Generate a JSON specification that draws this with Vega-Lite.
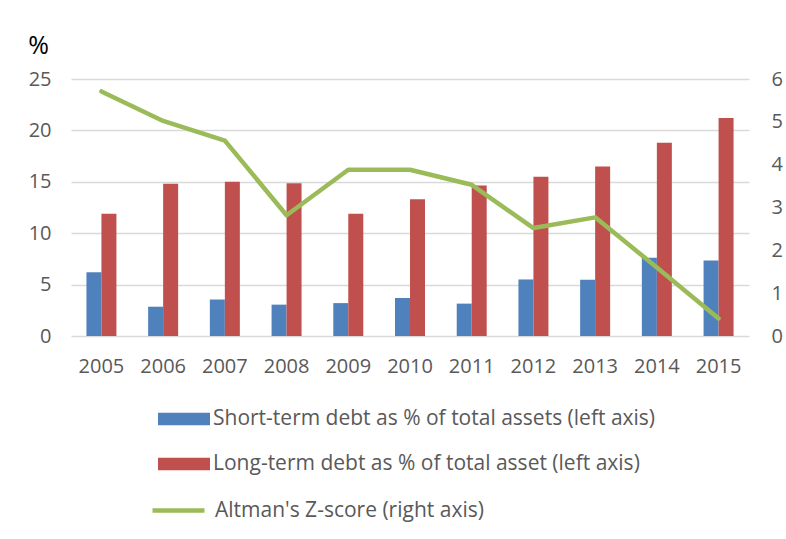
{
  "$schema": "https://vega.github.io/schema/vega-lite/v6.json",
  "width": 678,
  "height": 257,
  "autosize": {"type": "none"},
  "padding": {"left": 71, "top": 79, "right": 37, "bottom": 203},
  "background": "white",
  "config": {
    "view": {"stroke": null},
    "font": "Open Sans",
    "axis": {"labelColor": "#595959", "labelFontSize": 20, "labelFont": "Open Sans"},
    "legend": {"labelColor": "#595959", "labelFontSize": 21, "labelFont": "Open Sans", "labelLimit": 700}
  },
  "datasets": {
    "debt": [
      {"year": "2005", "series": "Short-term debt as % of total assets (left axis)", "value": 6.2},
      {"year": "2006", "series": "Short-term debt as % of total assets (left axis)", "value": 2.85},
      {"year": "2007", "series": "Short-term debt as % of total assets (left axis)", "value": 3.55},
      {"year": "2008", "series": "Short-term debt as % of total assets (left axis)", "value": 3.05},
      {"year": "2009", "series": "Short-term debt as % of total assets (left axis)", "value": 3.2},
      {"year": "2010", "series": "Short-term debt as % of total assets (left axis)", "value": 3.7},
      {"year": "2011", "series": "Short-term debt as % of total assets (left axis)", "value": 3.15},
      {"year": "2012", "series": "Short-term debt as % of total assets (left axis)", "value": 5.5},
      {"year": "2013", "series": "Short-term debt as % of total assets (left axis)", "value": 5.48},
      {"year": "2014", "series": "Short-term debt as % of total assets (left axis)", "value": 7.6},
      {"year": "2015", "series": "Short-term debt as % of total assets (left axis)", "value": 7.35},
      {"year": "2005", "series": "Long-term debt as % of total asset (left axis)", "value": 11.9},
      {"year": "2006", "series": "Long-term debt as % of total asset (left axis)", "value": 14.8},
      {"year": "2007", "series": "Long-term debt as % of total asset (left axis)", "value": 15.0},
      {"year": "2008", "series": "Long-term debt as % of total asset (left axis)", "value": 14.85},
      {"year": "2009", "series": "Long-term debt as % of total asset (left axis)", "value": 11.9},
      {"year": "2010", "series": "Long-term debt as % of total asset (left axis)", "value": 13.3},
      {"year": "2011", "series": "Long-term debt as % of total asset (left axis)", "value": 14.65},
      {"year": "2012", "series": "Long-term debt as % of total asset (left axis)", "value": 15.5},
      {"year": "2013", "series": "Long-term debt as % of total asset (left axis)", "value": 16.5},
      {"year": "2014", "series": "Long-term debt as % of total asset (left axis)", "value": 18.8},
      {"year": "2015", "series": "Long-term debt as % of total asset (left axis)", "value": 21.2}
    ],
    "zscore": [
      {"year": "2005", "series": "Altman's Z-score (right axis)", "z": 5.71},
      {"year": "2006", "series": "Altman's Z-score (right axis)", "z": 5.02},
      {"year": "2007", "series": "Altman's Z-score (right axis)", "z": 4.56},
      {"year": "2008", "series": "Altman's Z-score (right axis)", "z": 2.82},
      {"year": "2009", "series": "Altman's Z-score (right axis)", "z": 3.88},
      {"year": "2010", "series": "Altman's Z-score (right axis)", "z": 3.88},
      {"year": "2011", "series": "Altman's Z-score (right axis)", "z": 3.53},
      {"year": "2012", "series": "Altman's Z-score (right axis)", "z": 2.52},
      {"year": "2013", "series": "Altman's Z-score (right axis)", "z": 2.77},
      {"year": "2014", "series": "Altman's Z-score (right axis)", "z": 1.6},
      {"year": "2015", "series": "Altman's Z-score (right axis)", "z": 0.41}
    ]
  },
  "encoding": {
    "x": {
      "field": "year",
      "type": "ordinal",
      "scale": {"paddingInner": 0.514, "paddingOuter": 0.25},
      "axis": {"title": null, "labelAngle": 0, "ticks": false, "domain": false, "labelPadding": 20}
    }
  },
  "layer": [
    {
      "data": {"name": "debt"},
      "mark": {"type": "bar"},
      "encoding": {
        "xOffset": {
          "field": "series",
          "type": "nominal",
          "scale": {"domain": ["Short-term debt as % of total assets (left axis)", "Long-term debt as % of total asset (left axis)"], "paddingInner": 0, "paddingOuter": 0}
        },
        "y": {
          "field": "value",
          "type": "quantitative",
          "scale": {"domain": [0, 25]},
          "axis": {
            "values": [0, 5, 10, 15, 20, 25],
            "title": "%",
            "titleAngle": 0,
            "titleX": -33,
            "titleY": -34,
            "titleAlign": "center",
            "titleBaseline": "middle",
            "titleFontWeight": "normal",
            "titleFontSize": 25,
            "titleColor": "black",
            "titleFont": "Open Sans",
            "ticks": false,
            "domain": false,
            "labelPadding": 20,
            "gridColor": "#d9d9d9",
            "gridWidth": 1.5
          }
        },
        "fill": {
          "field": "series",
          "type": "nominal",
          "scale": {"domain": ["Short-term debt as % of total assets (left axis)", "Long-term debt as % of total asset (left axis)"], "range": ["#4f81bd", "#c0504d"]},
          "legend": {
            "title": null,
            "orient": "none",
            "legendX": 87,
            "legendY": 314,
            "symbolType": "M-1,-0.24H1V0.24H-1Z",
            "symbolSize": 2704,
            "symbolStrokeWidth": 0,
            "labelOffset": 3,
            "rowPadding": 9
          }
        }
      }
    },
    {
      "data": {"name": "zscore"},
      "mark": {"type": "line", "strokeWidth": 4.5, "strokeCap": "round", "strokeJoin": "round"},
      "encoding": {
        "y": {
          "field": "z",
          "type": "quantitative",
          "scale": {"domain": [0, 6]},
          "axis": {
            "orient": "right",
            "values": [0, 1, 2, 3, 4, 5, 6],
            "title": null,
            "ticks": false,
            "domain": false,
            "grid": false,
            "labelPadding": 22
          }
        },
        "stroke": {
          "field": "series",
          "type": "nominal",
          "scale": {"domain": ["Altman's Z-score (right axis)"], "range": ["#9bbb59"]},
          "legend": {
            "title": null,
            "orient": "none",
            "legendX": 79,
            "legendY": 403,
            "symbolType": "stroke",
            "symbolSize": 2704,
            "symbolStrokeWidth": 4.5,
            "labelOffset": 8
          }
        }
      }
    }
  ],
  "resolve": {"scale": {"y": "independent"}}
}
